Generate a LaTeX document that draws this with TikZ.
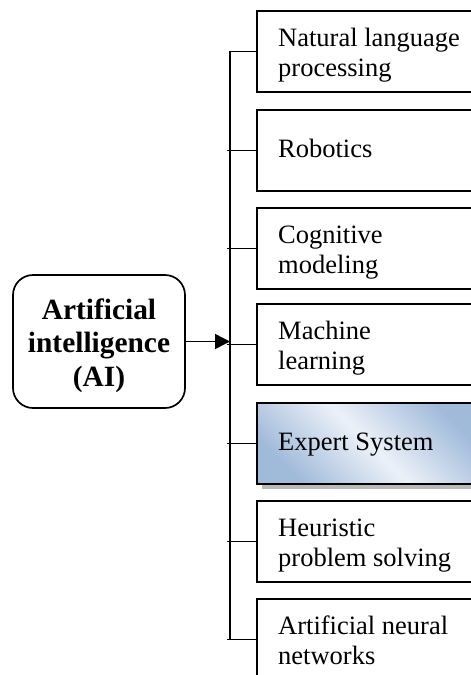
\documentclass[tikz,border=0pt]{standalone}
\usepackage{fontspec}
\setmainfont{Liberation Serif}
\usetikzlibrary{arrows.meta,shadows}
\definecolor{esdark}{RGB}{160,186,218}
\definecolor{eslight}{RGB}{236,241,248}
\begin{document}
\begin{tikzpicture}[x=1pt,y=-1pt,
  box/.style={draw,line width=2pt,rectangle,minimum width=224pt,minimum height=81pt,anchor=north west,inner sep=0pt},
  lbl/.style={anchor=base west,font=\fontsize{26.5}{30}\selectfont,align=left,inner sep=0pt},
  conn/.style={line width=1.5pt},
  aibox/.style={draw,line width=1.7pt,rounded corners=20pt,minimum width=172pt,minimum height=133pt,inner sep=0pt},
  aitext/.style={anchor=base,font=\fontsize{29.4}{33.5}\selectfont\bfseries,align=center,inner sep=0pt},
  expert/.style={box,top color=esdark,bottom color=esdark,middle color=eslight,shading angle=-45,
    drop shadow={shadow xshift=5pt,shadow yshift=-5pt,fill=gray!55,opacity=1}}
]
\useasboundingbox (0,0) rectangle (471,675);
\clip (0,0) rectangle (471,675);

% left node
\node[aibox] (ai) at (99,341.5) {};
\node[aitext] (ait) at (99,386) {Artificial\\intelligence\\(AI)};

% boxes
\node[box] (b1) at (256,10) {};
\node[box] (b2) at (256,109) {};
\node[box] (b3) at (256,207) {};
\node[box] (b4) at (256,303) {};
\node[expert] (b5) at (256,402) {};
\node[box] (b6) at (256,500) {};
\node[box] (b7) at (256,598) {};

% labels (anchored at the baseline of the last line)
\node[lbl] (t1) at (278,76) {Natural language\\processing};
\node[lbl] (t2) at (278,157) {Robotics};
\node[lbl] (t3) at (278,273) {Cognitive\\modeling};
\node[lbl] (t4) at (278,369) {Machine\\learning};
\node[lbl] (t5) at (278,450) {Expert System};
\node[lbl] (t6) at (278,566) {Heuristic\\problem solving};
\node[lbl] (t7) at (278,664) {Artificial neural\\networks};

% connectors
\coordinate (sx) at (230,0);
\coordinate (sxl) at (227,0);
\draw[conn] (b1.west) -- (b1.west -| sx) -- (b7.west -| sx);
\foreach \b in {b2,b3,b4,b5,b6,b7}{
  \draw[conn] (\b.west -| sxl) -- (\b.west);
}
\draw[conn,-{Triangle[length=15pt,width=15pt]}] (ai.east) -- (ai.east -| sx);
\end{tikzpicture}
\end{document}
